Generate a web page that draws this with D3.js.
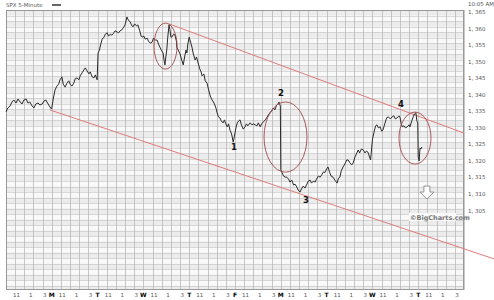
<!DOCTYPE html>
<html>
<meta charset="utf-8">
<style>
  body { margin: 0; background: #fff; }
  text { font-family: "DejaVu Sans", Verdana, sans-serif; }
  .ylab, .xlab, .head { font-size: 5.5px; fill: #555; }
  .xday { font-size: 6px; font-weight: bold; fill: #000; }
  .wave { font-size: 8.5px; font-weight: bold; fill: #111; }
  .copy { font-size: 6.5px; font-weight: bold; fill: #777; }
</style>
<body>
<script src="https://cdn.jsdelivr.net/npm/d3@7"></script>
<script>

var width = 494, height = 300;
var plotL = 6, plotR = 464, plotT = 10, plotB = 290;

// x = trading days since the first open (one day = 9:30 to 16:00), y = SPX level
var spx = [
  [0.00,1334.8],[0.04,1336.0],[0.09,1336.6],[0.13,1337.8],[0.17,1338.4],[0.22,1337.5],[0.26,1338.7],
  [0.31,1337.8],[0.35,1337.2],[0.39,1338.4],[0.44,1338.7],[0.48,1337.5],[0.52,1337.8],[0.57,1336.6],
  [0.61,1336.0],[0.65,1337.2],[0.70,1337.5],[0.74,1336.9],[0.79,1337.2],[0.83,1338.1],[0.87,1338.4],
  [0.92,1337.2],[0.96,1336.3],[0.99,1335.7],
  [1.00,1336.0],[1.03,1338.7],[1.07,1341.4],[1.11,1342.6],[1.15,1343.2],[1.18,1344.5],[1.22,1345.4],
  [1.25,1343.2],[1.29,1342.3],[1.33,1343.5],[1.37,1344.2],[1.40,1343.2],[1.44,1342.6],[1.48,1343.5],
  [1.51,1344.8],[1.55,1345.1],[1.59,1344.5],[1.62,1345.7],[1.66,1346.6],[1.70,1347.5],[1.73,1348.1],
  [1.77,1347.2],[1.81,1346.3],[1.84,1346.9],[1.88,1345.4],[1.92,1345.1],[1.95,1346.0],[1.99,1344.5],
  [2.01,1352.6],[2.04,1353.5],[2.07,1355.3],[2.10,1356.8],[2.14,1357.4],[2.17,1358.3],[2.21,1358.7],
  [2.24,1357.7],[2.28,1358.3],[2.31,1358.0],[2.35,1358.6],[2.38,1359.3],[2.42,1359.0],[2.46,1358.7],
  [2.49,1359.3],[2.53,1359.6],[2.56,1360.2],[2.60,1361.1],[2.64,1363.5],[2.67,1362.6],[2.71,1362.0],
  [2.74,1361.1],[2.77,1360.5],[2.81,1361.4],[2.85,1360.8],[2.88,1361.1],[2.92,1359.3],[2.95,1357.7],
  [2.97,1357.4],
  [3.01,1357.7],[3.04,1356.8],[3.08,1357.1],[3.11,1356.2],[3.15,1355.6],[3.19,1355.9],[3.22,1357.1],
  [3.26,1356.5],[3.30,1356.5],[3.33,1355.3],[3.36,1354.4],[3.39,1353.5],[3.43,1352.6],[3.45,1350.5],
  [3.47,1349.0],[3.49,1351.4],[3.51,1353.5],[3.53,1357.1],[3.56,1361.1],[3.58,1359.6],[3.60,1357.4],
  [3.62,1357.4],[3.66,1358.3],[3.69,1358.0],[3.72,1356.2],[3.73,1354.4],[3.77,1353.2],[3.80,1352.3],
  [3.83,1350.8],[3.87,1349.0],[3.90,1351.4],[3.93,1353.5],[3.95,1352.6],[3.97,1355.3],
  [4.00,1357.4],[4.03,1355.9],[4.06,1354.4],[4.09,1352.3],[4.13,1350.5],[4.16,1351.4],[4.19,1349.9],
  [4.23,1347.8],[4.26,1346.9],[4.28,1345.7],[4.32,1346.3],[4.35,1344.2],[4.39,1343.5],[4.42,1341.7],
  [4.46,1339.6],[4.50,1338.4],[4.53,1337.8],[4.56,1336.9],[4.59,1335.7],[4.61,1334.5],[4.64,1333.3],
  [4.67,1333.0],[4.70,1332.1],[4.74,1331.5],[4.77,1332.4],[4.80,1331.2],[4.83,1330.3],[4.86,1331.2],
  [4.89,1329.3],[4.92,1328.4],[4.94,1327.2],[4.96,1325.7],[4.98,1326.9],
  [5.02,1330.0],[5.05,1331.5],[5.08,1332.1],[5.11,1332.4],[5.14,1330.9],[5.18,1329.6],[5.22,1330.3],
  [5.25,1331.2],[5.28,1330.6],[5.33,1331.5],[5.37,1330.9],[5.40,1331.2],[5.44,1330.9],[5.48,1330.6],
  [5.51,1331.5],[5.55,1330.3],[5.58,1331.2],[5.62,1331.8],[5.66,1332.4],[5.69,1333.0],[5.73,1333.9],
  [5.76,1334.5],[5.80,1335.1],[5.84,1336.0],[5.87,1335.4],[5.91,1336.9],[5.94,1337.2],[5.96,1337.8],
  [5.99,1336.6],
  [6.00,1317.3],[6.03,1316.4],[6.06,1315.4],[6.10,1315.1],[6.13,1315.1],[6.17,1314.5],[6.20,1313.6],
  [6.24,1314.2],[6.28,1312.7],[6.31,1313.0],[6.35,1312.1],[6.38,1311.2],[6.42,1310.6],[6.45,1311.5],
  [6.49,1312.4],[6.53,1311.8],[6.56,1312.7],[6.60,1313.9],[6.64,1314.2],[6.67,1313.3],[6.71,1313.9],
  [6.75,1313.6],[6.78,1314.5],[6.82,1315.4],[6.86,1315.1],[6.89,1315.7],[6.93,1316.7],[6.96,1316.4],
  [7.00,1317.6],[7.03,1318.2],[7.07,1316.4],[7.10,1315.4],[7.14,1315.1],[7.18,1314.2],[7.23,1313.3],
  [7.26,1314.8],[7.29,1315.1],[7.32,1317.0],[7.36,1318.2],[7.40,1319.1],[7.44,1320.3],[7.47,1320.3],
  [7.51,1319.4],[7.55,1318.8],[7.58,1319.4],[7.62,1321.2],[7.66,1322.4],[7.69,1323.3],[7.72,1322.4],
  [7.76,1323.6],[7.80,1323.3],[7.84,1322.4],[7.87,1323.0],[7.90,1322.7],[7.93,1321.5],[7.96,1320.3],
  [8.00,1326.3],[8.03,1328.4],[8.07,1330.6],[8.10,1330.9],[8.13,1330.0],[8.17,1330.3],[8.20,1329.0],
  [8.23,1329.3],[8.27,1331.2],[8.31,1333.0],[8.35,1333.3],[8.39,1332.7],[8.43,1333.3],[8.47,1333.6],
  [8.50,1332.7],[8.54,1333.0],[8.58,1333.6],[8.60,1333.3],[8.63,1331.2],[8.65,1330.3],[8.69,1330.6],
  [8.72,1330.0],[8.76,1330.3],[8.80,1330.9],[8.82,1330.3],[8.86,1332.1],[8.89,1333.3],[8.92,1334.2],
  [8.95,1334.5],[8.97,1332.1],[8.99,1331.5],
  [9.00,1321.2],[9.02,1320.0],[9.04,1323.9],[9.06,1323.6],[9.08,1324.2]
];

var yTicks = [1365, 1360, 1355, 1350, 1345, 1340, 1335, 1330, 1325, 1320, 1315, 1310, 1305];
var dayLetters = ["M", "T", "W", "T", "F", "M", "T", "W", "T"];
var hourLabels = ["11", "1", "3"];
var hourAt = [1.5 / 6.5, 3.5 / 6.5, 5.5 / 6.5];

var upperChannel = [[3.56, 1361.4], [10, 1328.4]];
var lowerChannel = [[0.961, 1335.4], [10.655, 1290.4]];
// ellipses: center day, center level, half width (days), half height (points)
var circles = [[3.483, 1354.7, 0.251, 6.95], [6.103, 1327.2, 0.469, 10.6], [8.930, 1326.9, 0.349, 7.85]];
var waves = [["1", 4.978, 1324.2], ["2", 6.004, 1340.5], ["3", 6.550, 1308.2], ["4", 8.624, 1337.2]];

var x = d3.scaleLinear().domain([0, 10]).range([plotL, plotR]);
var y = d3.scaleLinear().domain([1281, 1365.6]).range([plotB, plotT]);

var svg = d3.select("body").append("svg")
    .attr("width", width)
    .attr("height", height);

// plot background with light bands
svg.append("rect")
    .attr("x", plotL).attr("y", plotT)
    .attr("width", plotR - plotL).attr("height", plotB - plotT)
    .attr("fill", "#f9f9f9");

var rowStep = 5 / 3;
var rows = d3.range(1365.6 - rowStep * 51, 1365.6, rowStep);
svg.selectAll(".band")
    .data(rows.filter(function (d, i) { return i % 2 == 0; }))
    .enter().append("rect")
    .attr("x", plotL).attr("width", plotR - plotL)
    .attr("y", function (d) { return Math.max(plotT, y(d + rowStep)); })
    .attr("height", function (d) { return Math.max(0, Math.min(plotB, y(d)) - Math.max(plotT, y(d + rowStep))); })
    .attr("fill", "#ececec");

svg.selectAll(".hgrid")
    .data(rows.filter(function (d) { return y(d) > plotT && y(d) < plotB; }))
    .enter().append("line")
    .attr("x1", plotL).attr("x2", plotR)
    .attr("y1", function (d) { return Math.round(y(d)) + 0.5; })
    .attr("y2", function (d) { return Math.round(y(d)) + 0.5; })
    .attr("stroke", "#c2c2c2").attr("stroke-width", 0.6);

svg.selectAll(".vgrid")
    .data(d3.range(0, 10.01, 0.2))
    .enter().append("line")
    .attr("x1", function (d) { return Math.round(x(d)) + 0.5; })
    .attr("x2", function (d) { return Math.round(x(d)) + 0.5; })
    .attr("y1", plotT).attr("y2", plotB)
    .attr("stroke", "#b2b2b2").attr("stroke-width", 0.7);

svg.append("rect")
    .attr("x", plotL + 0.5).attr("y", plotT + 0.5)
    .attr("width", plotR - plotL - 1).attr("height", plotB - plotT - 1)
    .attr("fill", "none").attr("stroke", "#999");

// header
svg.append("text").attr("class", "head").attr("x", 6).attr("y", 7).text("SPX 5-Minute");
svg.append("line").attr("x1", 52).attr("x2", 61).attr("y1", 5).attr("y2", 5)
    .attr("stroke", "#333").attr("stroke-width", 1.5);
svg.append("text").attr("class", "head").attr("x", 468).attr("y", 6).text("10:05 AM");

// y labels
svg.selectAll(".ylab")
    .data(yTicks)
    .enter().append("text")
    .attr("class", "ylab")
    .attr("x", plotR + 4)
    .attr("y", function (d) { return y(d) + 2; })
    .text(function (d) { return d3.format(",")(d).replace(",", ", "); });

// x labels
var hourData = [];
d3.range(10).forEach(function (d) {
  hourAt.forEach(function (h, i) { hourData.push([d + h, hourLabels[i]]); });
});
svg.selectAll(".xlab")
    .data(hourData)
    .enter().append("text")
    .attr("class", "xlab")
    .attr("text-anchor", "middle")
    .attr("x", function (d) { return x(d[0]); })
    .attr("y", 297)
    .text(function (d) { return d[1]; });
svg.selectAll(".xday")
    .data(dayLetters)
    .enter().append("text")
    .attr("class", "xday")
    .attr("text-anchor", "middle")
    .attr("x", function (d, i) { return x(i + 1); })
    .attr("y", 297)
    .text(function (d) { return d; });

// channel lines
[upperChannel, lowerChannel].forEach(function (c) {
  svg.append("line")
      .attr("x1", x(c[0][0])).attr("y1", y(c[0][1]))
      .attr("x2", x(c[1][0])).attr("y2", y(c[1][1]))
      .attr("stroke", "#e07a7a").attr("stroke-width", 1);
});

// price line
svg.append("path")
    .datum(spx)
    .attr("fill", "none")
    .attr("stroke", "#2a2a2a")
    .attr("stroke-width", 1)
    .attr("d", d3.line().x(function (d) { return x(d[0]); }).y(function (d) { return y(d[1]); }));

// ellipses
svg.selectAll(".circ")
    .data(circles)
    .enter().append("ellipse")
    .attr("cx", function (d) { return x(d[0]); })
    .attr("cy", function (d) { return y(d[1]); })
    .attr("rx", function (d) { return x(d[2]) - x(0); })
    .attr("ry", function (d) { return y(0) - y(d[3]); })
    .attr("fill", "none")
    .attr("stroke", "#a04848")
    .attr("stroke-width", 0.9);

svg.selectAll(".wave")
    .data(waves)
    .enter().append("text")
    .attr("class", "wave")
    .attr("text-anchor", "middle")
    .attr("x", function (d) { return x(d[1]); })
    .attr("y", function (d) { return y(d[2]) + 3; })
    .text(function (d) { return d[0]; });

// hollow down arrow
var ax = x(9.19), ay = y(1312.4);
svg.append("path")
    .attr("d", "M" + (ax - 3) + "," + ay + "h6v6h4l-7,7l-7,-7h4z")
    .attr("fill", "#fff")
    .attr("stroke", "#888")
    .attr("stroke-width", 0.9);

svg.append("rect").attr("x", 409).attr("y", 213).attr("width", 47).attr("height", 8).attr("fill", "#fafafa");
svg.append("text").attr("class", "copy").attr("x", 410).attr("y", 219.5).text("\u00a9BigCharts.com");

</script>
</body>
</html>
